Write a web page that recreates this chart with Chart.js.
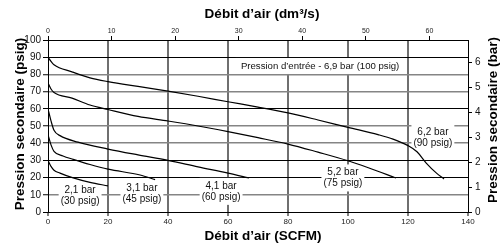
<!DOCTYPE html>
<html>
<head>
<meta charset="utf-8">
<script src="https://cdn.jsdelivr.net/npm/chart.js@4/dist/chart.umd.min.js"></script>
<style>
html,body{margin:0;padding:0;background:#fff;}
canvas{display:block;}
</style>
</head>
<body>
<canvas id="c" width="501" height="245"></canvas>
<script>
// ---- data (x = SCFM, y = psig) ----
const curve30 = [[0,30],[1,26.5],[2,24.3],[4,22.6],[8.4,19.8],[14,17.2],[20,15.2]];
const curve45 = [[0,45],[1,39],[2,35.3],[5,32.6],[8.4,30.6],[14,27.6],[20,24.9],[30.7,21.5],[35.7,18.8]];
const curve60 = [[0,60],[1,53],[2,47.5],[4,44.4],[10,40.6],[20,36.6],[30,33.2],[40,30],[50,26.2],[60,22.6],[67,19.8]];
const curve75 = [[0,75],[1,71.5],[2,69.5],[8,66.2],[14,62.2],[20,59.6],[30,55.6],[40,52.9],[50,50],[60,46.7],[70,43.2],[80,39.5],[90,34.8],[100,29.8],[107,25.6],[116,19.8]];
const curve90 = [[0,90],[1,87.6],[2,85.6],[8,81.5],[14,78],[20,75.8],[30,73],[40,70.3],[50,67.3],[60,64.1],[70,61],[80,57.6],[90,53.5],[100,49.2],[110,45],[115,42.4],[120,38.6],[123,35],[126,28.6],[129.5,22.6],[132,19.2]];

const bottomTicks = [0,20,40,60,80,100,120,140];
const leftTicks = [0,10,20,30,40,50,60,70,80,90,100];
const topTicks = [0,10,20,30,40,50,60];
const rightTicks = [0,1,2,3,4,5,6];
const darkGridPsig = [0,20,30,60,90,100];

const titleTop = 'Débit d’air (dm³/s)';
const titleBottom = 'Débit d’air (SCFM)';
const titleLeft = 'Pression secondaire (psig)';
const titleRight = 'Pression secondaire (bar)';

// annotations: [lines, x(SCFM), y(psig)]
const noteInlet = [['Pression d’entrée - 6,9 bar (100 psig)'], 90.7, 84.9];
const noteCurves = [
  [['2,1 bar','(30 psig)'], 10.7, 9.3],
  [['3,1 bar','(45 psig)'], 31.3, 10.5],
  [['4,1 bar','(60 psig)'], 57.7, 12.0],
  [['5,2 bar','(75 psig)'], 98.3, 19.8],
  [['6,2 bar','(90 psig)'], 128.3, 43]
];

const SCFM_TO_DM3S = 0.4719474;
const PSI_TO_BAR = 0.0689476;
const FONT = '"Liberation Sans", Arial, sans-serif';

const toPts = a => a.map(p => ({x:p[0], y:p[1]}));
const ds = a => ({data: toPts(a), showLine:true, borderColor:'#000', borderWidth:1.2,
  pointRadius:0, cubicInterpolationMode:'monotone', fill:false});

const allNotes = [noteInlet].concat(noteCurves);

const notesPlugin = {
  id:'notes',
  beforeDatasetsDraw(chart){
    const c = chart.ctx, xs = chart.scales.x, ys = chart.scales.y;
    c.save();
    c.font = '10px ' + FONT;
    allNotes.forEach(n => {
      const lines = n[0];
      const cx = xs.getPixelForValue(n[1]), cy = ys.getPixelForValue(n[2]);
      const w = Math.max(...lines.map(l => c.measureText(l).width)) + 4;
      const h = lines.length * 11 + 5;
      c.fillStyle = '#fff';
      c.fillRect(cx - w/2, cy - h/2, w, h);
    });
    c.restore();
  },
  afterDatasetsDraw(chart){
    const c = chart.ctx, xs = chart.scales.x, ys = chart.scales.y;
    c.save();
    c.fillStyle = '#111';
    c.textAlign = 'center';
    c.textBaseline = 'middle';
    allNotes.forEach((n, i) => {
      c.font = (i === 0 ? '9.6px ' : '10px ') + FONT;
      const lines = n[0];
      const cx = xs.getPixelForValue(n[1]), cy = ys.getPixelForValue(n[2]);
      lines.forEach((l, k) => {
        c.fillText(l, cx, cy + (k - (lines.length - 1) / 2) * 11);
      });
    });
    c.restore();
  },
  afterDraw(chart){
    const c = chart.ctx;
    c.save();
    c.fillStyle = '#000';
    c.font = 'bold 13.5px ' + FONT;
    c.textAlign = 'center';
    c.textBaseline = 'middle';
    c.fillText(titleTop, 262, 14);
    c.fillText(titleBottom, 263, 236);
    c.translate(20, 124);
    c.rotate(-Math.PI/2);
    c.fillText(titleLeft, 0, 0);
    c.restore();
    c.save();
    c.fillStyle = '#000';
    c.font = 'bold 13.5px ' + FONT;
    c.textAlign = 'center';
    c.textBaseline = 'middle';
    c.translate(493, 120);
    c.rotate(-Math.PI/2);
    c.fillText(titleRight, 0, 0);
    c.restore();
  }
};

const keep = list => (scale) => { scale.ticks = list.map(v => ({value:v})); };

new Chart(document.getElementById('c'), {
  type:'scatter',
  data:{datasets:[ds(curve30), ds(curve45), ds(curve60), ds(curve75), ds(curve90)]},
  options:{
    responsive:false, animation:false, devicePixelRatio:1,
    layout:{padding:0},
    plugins:{legend:{display:false}, tooltip:{enabled:false}},
    scales:{
      x:{type:'linear', position:'bottom', min:0, max:140,
        afterBuildTicks: keep(bottomTicks),
        afterFit: s => { s.height = 33; },
        ticks:{font:{size:8, family:FONT}, color:'#222', padding:1, maxRotation:0},
        grid:{color: ctx => (ctx.tick && (ctx.tick.value === 0 || ctx.tick.value === 140)) ? 'rgba(0,0,0,0)' : '#6f6f6f',
              lineWidth: 2, tickColor:'#000', tickLength:4, tickWidth:1},
        border:{color:'#000', width:1}},
      x2:{type:'linear', position:'top', min:0, max:140*SCFM_TO_DM3S,
        afterBuildTicks: keep(topTicks),
        afterFit: s => { s.height = 40; },
        ticks:{font:{size:7, family:FONT}, color:'#222', padding:1, maxRotation:0},
        grid:{drawOnChartArea:false, tickColor:'#000', tickLength:4, tickWidth:1},
        border:{color:'#000', width:1}},
      y:{type:'linear', position:'left', min:0, max:100,
        afterBuildTicks: keep(leftTicks),
        afterFit: s => { s.width = 48; },
        ticks:{font:{size:10, family:FONT}, color:'#111', padding:2},
        grid:{color: ctx => (ctx.tick && darkGridPsig.includes(ctx.tick.value)) ? '#000' : '#858585',
              lineWidth: ctx => (ctx.tick && darkGridPsig.includes(ctx.tick.value)) ? 1 : 1.5,
              tickColor:'#000', tickLength:5, tickWidth:1},
        border:{color:'#000', width:1}},
      y2:{type:'linear', position:'right', min:0, max:100*PSI_TO_BAR,
        afterBuildTicks: keep(rightTicks),
        afterFit: s => { s.width = 33; },
        ticks:{font:{size:10, family:FONT}, color:'#111', padding:3},
        grid:{drawOnChartArea:false, tickColor:'#000', tickLength:4, tickWidth:1},
        border:{color:'#000', width:1}}
    }
  },
  plugins:[notesPlugin]
});
</script>
</body>
</html>
